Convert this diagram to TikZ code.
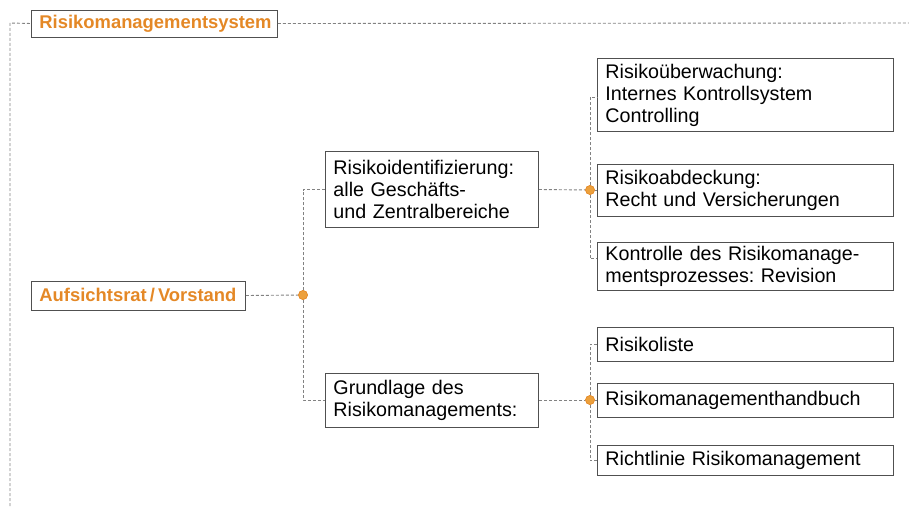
\documentclass[tikz,border=0pt]{standalone}
\usepackage{fontspec}
\setmainfont{Liberation Sans}
\frenchspacing
\definecolor{orng}{RGB}{228,136,38}
\definecolor{dotc}{RGB}{236,160,60}
\definecolor{boxc}{RGB}{80,80,80}
\definecolor{linec}{RGB}{130,130,130}
\begin{document}
\begin{tikzpicture}[x=1pt,y=-1pt,
  box/.style={draw=boxc, line width=0.9pt, inner xsep=8pt, inner ysep=2pt, align=left,
    font=\fontsize{19.7}{22}\selectfont, anchor=west},
  hbox/.style={draw=boxc, line width=0.9pt, inner xsep=8pt, inner ysep=2pt, align=left,
    font=\fontsize{18.4}{22}\selectfont\bfseries, text=orng, anchor=west},
  conn/.style={draw=linec, line width=0.9pt, dash pattern=on 3pt off 2pt},
  jdot/.style={circle, fill=dotc, draw=orng, line width=0.5pt, inner sep=0pt, minimum size=9pt}]
\useasboundingbox (0,0) rectangle (909,508);
% title
\node[hbox, text width=230, minimum height=27] (title) at (31,23.5) {Risikomanagementsystem};
\coordinate (tl) at (10,23);
\coordinate (tr) at (909,23);
\coordinate (bl) at (10,506);
\draw[conn] (bl) -- (tl) -- (title.west);
\draw[conn] (title.east) -- (tr);
% level 1
\node[hbox, text width=198, minimum height=29] (auf) at (31,295.5) {Aufsichtsrat\,/\,Vorstand};
\node[jdot] (d1) at (303,295) {};
% level 2
\node[box, text width=197, minimum height=76] (ri) at (325,189.5) {Risikoidentifizierung:\\alle Geschäfts-\\und Zentralbereiche};
\node[box, text width=197, minimum height=54] (gr) at (325,400) {Grundlage des\\Risikomanagements:};
\node[jdot] (d2) at (590,190) {};
\node[jdot] (d3) at (590,400) {};
% level 3
\node[box, text width=280, minimum height=73] (a) at (597,95) {Risikoüberwachung:\\Internes Kontrollsystem\\Controlling};
\node[box, text width=280, minimum height=52] (b) at (597,190) {Risikoabdeckung:\\Recht und Versicherungen};
\node[box, text width=280, minimum height=48] (c) at (597,266.5) {Kontrolle des Risikomanage-\\mentsprozesses: Revision};
\node[box, text width=280, minimum height=34] (l1) at (597,344) {Risikoliste};
\node[box, text width=280, minimum height=34] (l2) at (597,400) {Risikomanagementhandbuch};
\node[box, text width=280, minimum height=30] (l3) at (597,460.5) {Richtlinie Risikomanagement};
% connectors
\draw[conn] (auf.east) -- (d1);
\draw[conn] (d1) |- (ri.west);
\draw[conn] (d1) |- (gr.west);
\draw[conn] (ri.east) -- (d2);
\draw[conn] (d2) -- (b.west);
\draw[conn] (d2) |- ([yshift=-2pt]a.west);
\draw[conn] (d2) |- ([yshift=8pt]c.west);
\draw[conn] (gr.east) -- (d3);
\draw[conn] (d3) -- (l2.west);
\draw[conn] (d3) |- (l1.west);
\draw[conn] (d3) |- (l3.west);
\node[jdot] at (d1) {};
\node[jdot] at (d2) {};
\node[jdot] at (d3) {};
\end{tikzpicture}
\end{document}
